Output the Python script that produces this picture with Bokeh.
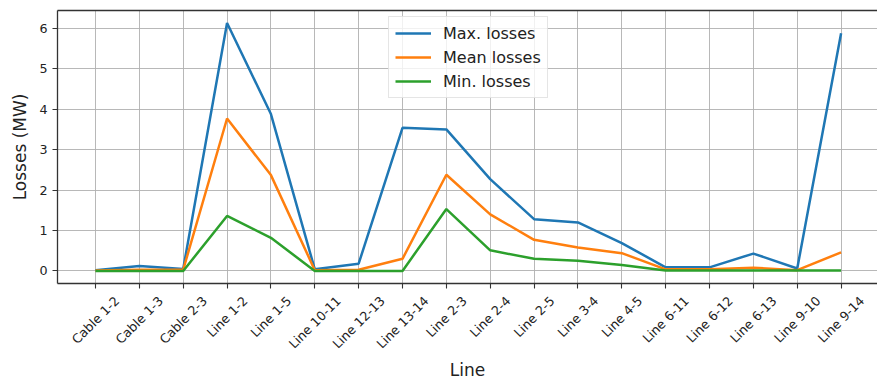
import math
from bokeh.plotting import figure
from bokeh.models import (FixedTicker, LinearAxis, Legend, LegendItem, Range1d,
                          CustomJSTickFormatter)
from bokeh.embed import file_html
from bokeh.resources import INLINE

# ---------------- data ----------------
categories = ["Cable 1-2", "Cable 1-3", "Cable 2-3", "Line 1-2", "Line 1-5", "Line 10-11",
              "Line 12-13", "Line 13-14", "Line 2-3", "Line 2-4", "Line 2-5", "Line 3-4",
              "Line 4-5", "Line 6-11", "Line 6-12", "Line 6-13", "Line 9-10", "Line 9-14"]
max_losses = [0.02, 0.12, 0.05, 6.13, 3.88, 0.04, 0.18, 3.54, 3.50, 2.27, 1.28, 1.20,
              0.69, 0.09, 0.09, 0.43, 0.06, 5.88]
mean_losses = [0.01, 0.03, 0.03, 3.77, 2.37, 0.02, 0.03, 0.30, 2.38, 1.40, 0.77, 0.58,
               0.44, 0.04, 0.04, 0.08, 0.02, 0.46]
min_losses = [0.0, 0.0, 0.0, 1.36, 0.82, 0.0, 0.0, 0.0, 1.53, 0.51, 0.30, 0.25,
              0.15, 0.01, 0.01, 0.01, 0.01, 0.01]
y_ticks = [0, 1, 2, 3, 4, 5, 6]
series_names = ["Max. losses", "Mean losses", "Min. losses"]

# ---------------- style ----------------
FONT = "DejaVu Sans"
TXT = "#222222"
TICK_FS = 12.7
x = list(range(len(categories)))
X0, X1 = -0.866, 17.83
FRAME_W = 820

p = figure(width=877, height=382, output_backend="svg", toolbar_location=None,
           x_range=Range1d(X0, X1), y_range=Range1d(-0.31, 6.44),
           min_border_left=57, min_border_right=0, min_border_top=10, min_border_bottom=99)
p.outline_line_color = None
p.background_fill_color = "white"
p.border_fill_color = "white"

colors = ["#1f77b4", "#ff7f0e", "#2ca02c"]
renderers = []
for vals, c in zip([max_losses, mean_losses, min_losses], colors):
    renderers.append(p.line(x, vals, line_color=c, line_width=2.5))

# grid
p.xgrid.ticker = FixedTicker(ticks=x)
p.ygrid.ticker = FixedTicker(ticks=y_ticks)
for g in (p.xgrid, p.ygrid):
    g.grid_line_color = "#b0b0b0"
    g.grid_line_width = 1
    g.grid_line_alpha = 0.9

# axes
spine = "#333333"
p.xaxis.ticker = FixedTicker(ticks=x)
p.xaxis.formatter = CustomJSTickFormatter(code="return '';")
p.xaxis.major_label_standoff = 0
p.xaxis.major_label_text_font_size = "0px"
p.yaxis.ticker = FixedTicker(ticks=y_ticks)
for ax in (p.xaxis, p.yaxis):
    ax.axis_line_color = spine
    ax.axis_line_width = 1.3
    ax.major_tick_line_color = spine
    ax.major_tick_line_width = 1.1
    ax.major_tick_out = 5
    ax.major_tick_in = 0
    ax.minor_tick_out = 0
    ax.minor_tick_in = 0
p.yaxis.major_label_text_font = FONT
p.yaxis.major_label_text_font_size = f"{TICK_FS}px"
p.yaxis.major_label_text_color = TXT
p.yaxis.major_label_standoff = 5
p.yaxis.axis_label = "Losses (MW)"
p.yaxis.axis_label_text_font = FONT
p.yaxis.axis_label_text_font_size = "17px"
p.yaxis.axis_label_text_font_style = "normal"
p.yaxis.axis_label_text_color = TXT
p.yaxis.axis_label_standoff = 6

# category labels: rotated 45 deg and centred under their tick (matplotlib style);
# Bokeh anchors rotated labels at their end, so the label axis ticks are shifted by w/(2*sqrt2)
W = {" ": 0.318, "C": 0.698, "L": 0.557, "a": 0.613, "b": 0.635, "e": 0.615, "i": 0.278,
     "l": 0.278, "n": 0.634, "-": 0.361}
for d in "0123456789":
    W[d] = 0.636
px_per_unit = FRAME_W / (X1 - X0)
label_ticks = []
for xi, t in zip(x, categories):
    w = sum(W.get(ch, 0.6) for ch in t) * TICK_FS
    label_ticks.append(xi + w / (2 * math.sqrt(2)) / px_per_unit)

lab_axis = LinearAxis(ticker=FixedTicker(ticks=label_ticks),
                      formatter=CustomJSTickFormatter(args=dict(names=categories),
                                                      code="return names[index];"),
                      major_label_orientation=math.pi / 4, major_label_standoff=10,
                      major_tick_out=0, major_tick_in=0, minor_tick_out=0, minor_tick_in=0,
                      axis_line_color=None, major_label_text_font=FONT,
                      major_label_text_font_size=f"{TICK_FS}px", major_label_text_color=TXT,
                      axis_label="Line", axis_label_standoff=0, axis_label_text_font=FONT,
                      axis_label_text_font_size="17px", axis_label_text_font_style="normal",
                      axis_label_text_color=TXT)
p.add_layout(lab_axis, "below")

top = LinearAxis(ticker=FixedTicker(ticks=[]), major_tick_out=0, major_tick_in=0,
                 minor_tick_out=0, minor_tick_in=0, major_label_standoff=0,
                 major_label_text_font_size="0px", axis_line_color=spine, axis_line_width=1.3)
p.add_layout(top, "above")

legend = Legend(items=[LegendItem(label=n, renderers=[r]) for n, r in zip(series_names, renderers)],
                location=(331, 185), margin=0, padding=6, spacing=4,
                label_height=20, glyph_height=20, glyph_width=36, label_standoff=12,
                label_text_font=FONT, label_text_font_size="16px", label_text_color=TXT,
                border_line_color="#cccccc", border_line_width=1,
                background_fill_color="white", background_fill_alpha=0.8)
p.add_layout(legend)

open("out.html", "w").write(file_html(p, INLINE))
